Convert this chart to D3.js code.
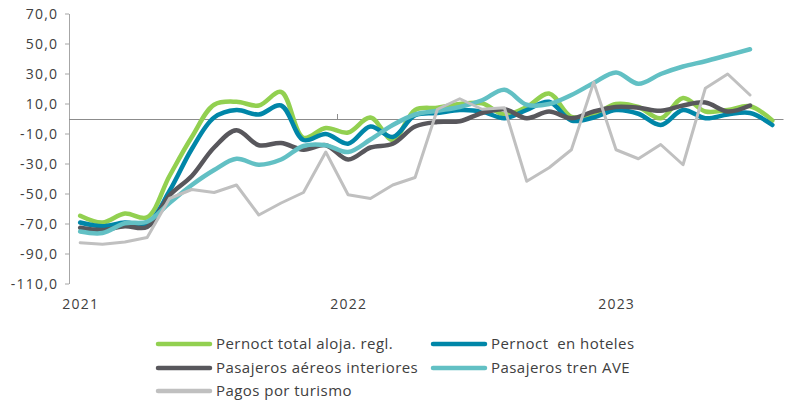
<!DOCTYPE html>
<html>
<head>
<meta charset="utf-8">
<script src="https://cdn.jsdelivr.net/npm/d3@7"></script>
<style>
  body { margin: 0; background: #fff; }
  text { font-family: "Open Sans", sans-serif; fill: #404040; }
  .tick-label { font-size: 14px; letter-spacing: 1.2px; }
  .legend-label { font-size: 15px; letter-spacing: 0.45px; white-space: pre; }
</style>
</head>
<body>
<div id="chart"></div>
<script>
// Months, Jan 2021 to Aug 2023
const months = [
  "ene-21","feb-21","mar-21","abr-21","may-21","jun-21","jul-21","ago-21","sep-21","oct-21","nov-21","dic-21",
  "ene-22","feb-22","mar-22","abr-22","may-22","jun-22","jul-22","ago-22","sep-22","oct-22","nov-22","dic-22",
  "ene-23","feb-23","mar-23","abr-23","may-23","jun-23","jul-23","ago-23"
];
const yearLabels = ["2021", "2022", "2023"];
const yearMonths = ["ene-21", "ene-22", "ene-23"];
const yTicks = [70, 50, 30, 10, -10, -30, -50, -70, -90, -110];
const yTickLabels = ["70,0","50,0","30,0","10,0","-10,0","-30,0","-50,0","-70,0","-90,0","-110,0"];

// Series values (% change)
const pernoctTotal = [-64.5, -69, -63, -65.5, -38, -12, 9.5, 11.5, 9, 18, -12.5, -6, -9, 1, -14, 6,
  7.5, 10, 10.5, 3, 8, 17, 1.5, 3, 10, 8, 0.5, 14, 5, 6, 8.5, -1];
const pernoctHoteles = [-69, -71.5, -69, -70, -48, -20, 1, 6, 3, 9, -14, -10, -16.5, -5, -12, 2.5,
  4, 6, 5, 0.5, 6, 11.5, -1, 1, 6, 3.5, -4, 6, 0.5, 3, 4, -4];
const aereosInteriores = [-72.5, -74, -71.5, -72, -51, -38, -19, -7.5, -17.5, -16, -20.5, -17.5, -27, -19, -16.5, -5,
  -2, -1.5, 4, 6.5, 0.5, 5, 0.5, 5, 8, 7.5, 5.5, 9, 11, 5, 9];
const trenAVE = [-75, -76, -69.5, -68.5, -56, -44, -34, -26.5, -30.5, -27, -18, -17.5, -22, -13.7, -4, 3,
  5.5, 8, 12.5, 19.5, 9.5, 10, 16, 24, 31, 23.5, 30, 35, 38.5, 42.5, 46.5];
const pagosTurismo = [-82.5, -83.5, -82, -79, -53, -47, -49, -44, -64, -56, -49, -22, -50.5, -53, -44, -39,
  6.5, 13.5, 6.5, 7.5, -41.5, -32.5, -20.5, 24.5, -20.5, -26.5, -17, -30.5, 20.5, 30, 16];

const seriesNames = ["Pernoct total aloja. regl.", "Pernoct  en hoteles", "Pasajeros aéreos interiores",
  "Pasajeros tren AVE", "Pagos por turismo"];

const series = [
  { name: seriesNames[0], values: pernoctTotal, color: "#92D050", width: 4.5, smooth: true },
  { name: seriesNames[1], values: pernoctHoteles, color: "#0086A8", width: 4.5, smooth: true },
  { name: seriesNames[2], values: aereosInteriores, color: "#58575C", width: 4.5, smooth: true },
  { name: seriesNames[3], values: trenAVE, color: "#62C0C4", width: 4.5, smooth: true },
  { name: seriesNames[4], values: pagosTurismo, color: "#C0C0C0", width: 3, smooth: false }
];

const width = 785, height = 402;
const plot = { left: 69, right: 783.5, top: 14, bottom: 284 };

const svg = d3.select("#chart").append("svg")
  .attr("width", width)
  .attr("height", height);

const xScale = d3.scalePoint()
  .domain(months)
  .range([plot.left, plot.right])
  .padding(0.5);
const step = xScale.step();

const yScale = d3.scaleLinear()
  .domain([-110, 70])
  .range([plot.bottom, plot.top]);

// Y axis line, ticks and labels
svg.append("line")
  .attr("x1", plot.left + 0.5).attr("x2", plot.left + 0.5)
  .attr("y1", yScale(70)).attr("y2", yScale(-110))
  .attr("stroke", "#a6a6a6").attr("stroke-width", 1);

yTicks.forEach((t, i) => {
  svg.append("line")
    .attr("x1", plot.left - 4).attr("x2", plot.left)
    .attr("y1", yScale(t)).attr("y2", yScale(t))
    .attr("stroke", "#a6a6a6");
  svg.append("text")
    .attr("class", "tick-label")
    .attr("x", plot.left - 10.8)
    .attr("y", yScale(t))
    .attr("dy", "0.35em")
    .attr("text-anchor", "end")
    .text(yTickLabels[i]);
});

// Horizontal axis at zero
svg.append("line")
  .attr("x1", plot.left).attr("x2", plot.right)
  .attr("y1", yScale(0) + 0.5).attr("y2", yScale(0) + 0.5)
  .attr("stroke", "#8c8c8c").attr("stroke-width", 1);

// Year boundary ticks
yearMonths.slice(1).forEach(m => {
  const bx = Math.round(xScale(m) - step / 2) + 0.5;
  svg.append("line")
    .attr("x1", bx).attr("x2", bx)
    .attr("y1", yScale(0) - 5).attr("y2", yScale(0))
    .attr("stroke", "#8c8c8c");
});

// Year labels
yearMonths.forEach((m, i) => {
  svg.append("text")
    .attr("class", "tick-label")
    .attr("x", xScale(m) + 0.6)
    .attr("y", 309)
    .attr("text-anchor", "middle")
    .text(yearLabels[i]);
});

// Lines
series.forEach(s => {
  const line = d3.line()
    .x((d, i) => xScale(months[i]))
    .y(d => yScale(d))
    .curve(s.smooth ? d3.curveCatmullRom.alpha(0.5) : d3.curveLinear);
  svg.append("path")
    .datum(s.values)
    .attr("fill", "none")
    .attr("stroke", s.color)
    .attr("stroke-width", s.width)
    .attr("stroke-linejoin", "round")
    .attr("stroke-linecap", "round")
    .attr("d", line);
});

// Legend
const legendPos = [
  { x: 158, y: 344 }, { x: 433, y: 344 },
  { x: 158, y: 368 }, { x: 433, y: 368 },
  { x: 158, y: 391 }
];
series.forEach((s, i) => {
  const p = legendPos[i];
  svg.append("line")
    .attr("x1", p.x).attr("x2", p.x + 52)
    .attr("y1", p.y).attr("y2", p.y)
    .attr("stroke", s.color)
    .attr("stroke-width", 4.5)
    .attr("stroke-linecap", "round");
  svg.append("text")
    .attr("class", "legend-label")
    .attr("x", p.x + 58)
    .attr("y", p.y)
    .attr("dy", "0.35em")
    .text(s.name);
});
</script>
</body>
</html>
